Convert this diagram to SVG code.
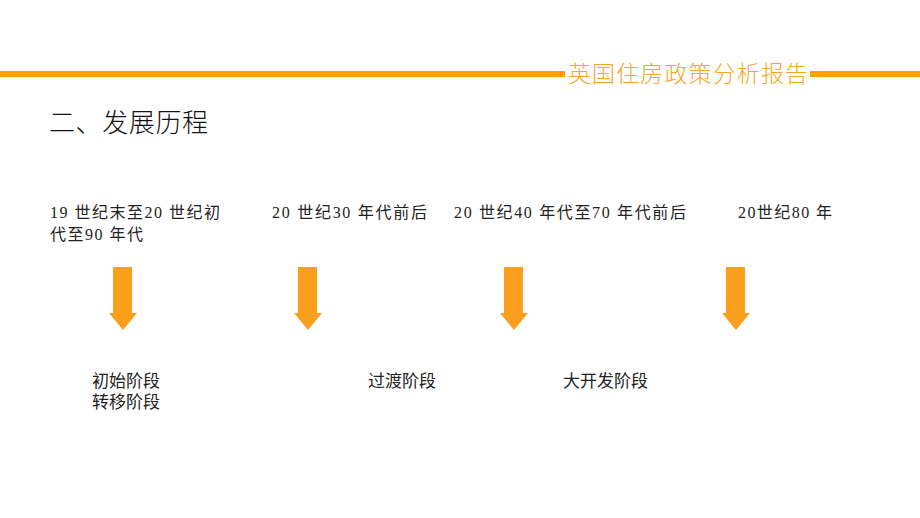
<svg xmlns="http://www.w3.org/2000/svg" width="920" height="518" viewBox="0 0 920 518">
<defs>
<style>
.t{font-family:"Liberation Serif","Noto Sans CJK SC",serif;font-size:16px;fill:#222}
.s{font-family:"Liberation Serif","Noto Sans CJK SC",serif;font-size:17px;fill:#222}
.arrow{fill:#F99F1B}
</style>
<path id="arr" d="M-10,0 H9 V46 H14 L0,63 L-14,46 H-10 Z"/>
</defs>
<rect width="920" height="518" fill="#fff"/>
<g id="header">
<rect x="0" y="71" width="565" height="6" fill="#FFA200"/>
<rect x="810" y="71" width="110" height="6" fill="#FFA200"/>
<text x="568" y="82" font-family="'Noto Sans CJK SC',sans-serif" font-size="23" font-weight="300" fill="#F7A623" textLength="240">英国住房政策分析报告</text>
</g>
<g id="heading">
<text x="49" y="132" font-family="'Noto Sans CJK SC',sans-serif" font-size="26" font-weight="300" fill="#111" textLength="159">二、发展历程</text>
</g>
<g id="period1"><text class="t" x="50" y="218" textLength="170">19 世纪末至20 世纪初</text><text class="t" x="50" y="240" textLength="93">代至90 年代</text></g>
<g id="period2"><text class="t" x="272" y="218" textLength="155">20 世纪30 年代前后</text></g>
<g id="period3"><text class="t" x="454" y="218" textLength="232">20 世纪40 年代至70 年代前后</text></g>
<g id="period4"><text class="t" x="738" y="218" textLength="94">20世纪80 年</text></g>
<g id="connectors">
<use href="#arr" class="arrow" x="123" y="267"/>
<use href="#arr" class="arrow" x="308" y="267"/>
<use href="#arr" class="arrow" x="514" y="267"/>
<use href="#arr" class="arrow" x="736" y="267"/>
</g>
<g id="stage1"><text class="s" x="92" y="387">初始阶段</text><text class="s" x="92" y="408">转移阶段</text></g>
<g id="stage2"><text class="s" x="368" y="387">过渡阶段</text></g>
<g id="stage3"><text class="s" x="563" y="387">大开发阶段</text></g>
</svg>
